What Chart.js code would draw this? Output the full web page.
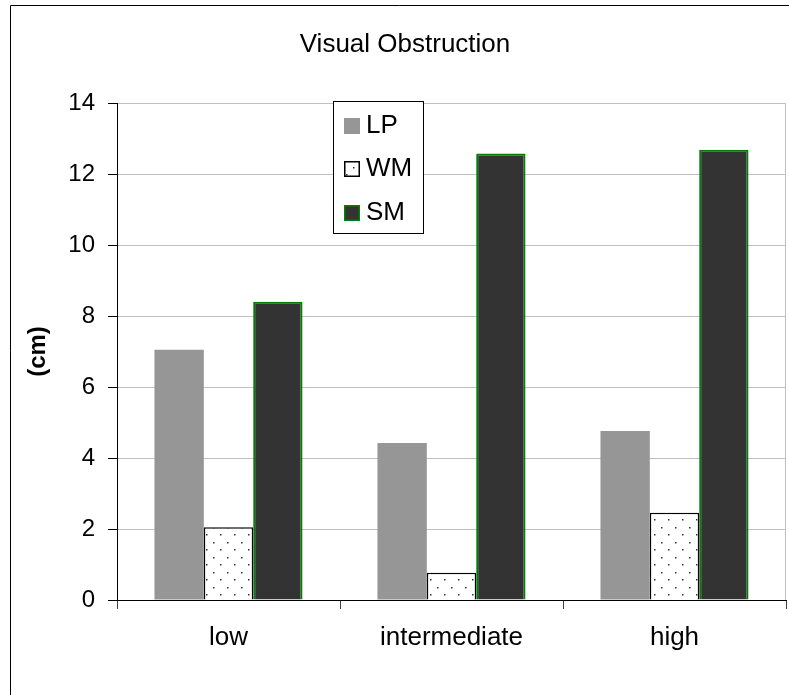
<!DOCTYPE html>
<html>
<head>
<meta charset="utf-8">
<script src="https://cdn.jsdelivr.net/npm/chart.js@4.4.1/dist/chart.umd.min.js"></script>
<style>
  html, body { margin: 0; padding: 0; background: #fff; }
  #wrap { position: relative; width: 789px; height: 695px; }
</style>
</head>
<body>
<div id="wrap"><canvas id="chart1" width="789" height="695"></canvas></div>
<script>
const categories = ['low', 'intermediate', 'high'];
const seriesNames = ['LP', 'WM', 'SM'];
const lpValues = [7.05, 4.42, 4.76];
const wmValues = [2.05, 0.77, 2.46];
const smValues = [8.4, 12.58, 12.68];
const yTicks = [0, 2, 4, 6, 8, 10, 12, 14];

const FONT = "'Liberation Sans', Arial, sans-serif";

// dotted fill for WM
function dotPattern() {
  const c = document.createElement('canvas');
  c.width = 14; c.height = 15;
  const g = c.getContext('2d');
  g.fillStyle = '#fff';
  g.fillRect(0, 0, 14, 15);
  g.fillStyle = '#333';
  g.fillRect(3, 2, 1.5, 1.5);
  g.fillRect(10, 9, 1.5, 1.5);
  return g.createPattern(c, 'repeat');
}
const dots = dotPattern();

// frame, title, right plot border and the boxed legend
const decor = {
  id: 'decor',
  beforeDraw(chart) {
    const ctx = chart.ctx;
    ctx.save();
    ctx.fillStyle = '#fff';
    ctx.fillRect(0, 0, chart.width, chart.height);
    ctx.strokeStyle = '#000';
    ctx.lineWidth = 1;
    ctx.beginPath();
    ctx.moveTo(10.5, chart.height);
    ctx.lineTo(10.5, 5.5);
    ctx.lineTo(chart.width, 5.5);
    ctx.stroke();
    ctx.fillStyle = '#000';
    ctx.font = '26px ' + FONT;
    ctx.textAlign = 'center';
    ctx.textBaseline = 'alphabetic';
    ctx.fillText('Visual Obstruction', 405, 52);
    ctx.restore();
  },
  afterDraw(chart) {
    const ctx = chart.ctx;
    const a = chart.chartArea;
    ctx.save();
    ctx.strokeStyle = '#c0c0c0';
    ctx.lineWidth = 1;
    ctx.beginPath();
    ctx.moveTo(Math.round(a.right) - 0.5, a.top);
    ctx.lineTo(Math.round(a.right) - 0.5, a.bottom);
    ctx.stroke();

    // legend box
    const bx = 333, by = 101, bw = 90, bh = 132;
    ctx.fillStyle = '#fff';
    ctx.fillRect(bx, by, bw, bh);
    ctx.strokeStyle = '#000';
    ctx.strokeRect(bx + 0.5, by + 0.5, bw, bh);
    const rows = [126, 169, 213];
    ctx.font = '26px ' + FONT;
    ctx.textAlign = 'left';
    ctx.textBaseline = 'alphabetic';
    chart.data.datasets.forEach((ds, i) => {
      const cy = rows[i];
      ctx.fillStyle = ds.backgroundColor;
      ctx.fillRect(344, cy - 8, 16, 16);
      if (ds.borderWidth) {
        ctx.strokeStyle = ds.borderColor;
        ctx.lineWidth = 1.5;
        ctx.strokeRect(344.75, cy - 7.25, 14.5, 14.5);
      }
      ctx.fillStyle = '#000';
      ctx.fillText(ds.label, 366, cy + 7);
    });
    ctx.restore();
  }
};

new Chart(document.getElementById('chart1'), {
  type: 'bar',
  data: {
    labels: categories,
    datasets: [{
      label: seriesNames[0],
      data: lpValues,
      backgroundColor: '#969696',
      borderWidth: 0
    }, {
      label: seriesNames[1],
      data: wmValues,
      backgroundColor: dots,
      borderColor: '#000',
      borderWidth: 1.5
    }, {
      label: seriesNames[2],
      data: smValues,
      backgroundColor: '#333333',
      borderColor: '#008000',
      borderWidth: 2
    }]
  },
  options: {
    responsive: false,
    animation: false,
    layout: { padding: { left: 10, right: 3, top: 103, bottom: 0 } },
    datasets: { bar: { categoryPercentage: 0.664, barPercentage: 1 } },
    plugins: {
      legend: { display: false },
      title: { display: false },
      tooltip: { enabled: false }
    },
    scales: {
      x: {
        grid: { drawOnChartArea: false, offset: true, tickLength: 9, color: '#404040' },
        border: { color: '#000', width: 1 },
        ticks: { color: '#000', font: { family: FONT, size: 26 }, padding: 13, maxRotation: 0 },
        afterFit(scale) { scale.height = 95; }
      },
      y: {
        min: 0,
        max: 14,
        afterBuildTicks(scale) { scale.ticks = yTicks.map(v => ({ value: v })); },
        grid: { color: '#c0c0c0', tickColor: '#000', tickLength: 9 },
        border: { color: '#000', width: 1 },
        ticks: { color: '#000', font: { family: FONT, size: 24 }, padding: 13 },
        title: {
          display: true,
          text: '(cm)',
          color: '#000',
          font: { family: FONT, size: 24, weight: 'bold' },
          padding: { top: 14, bottom: 0 }
        },
        afterFit(scale) { scale.width = 107; }
      }
    }
  },
  plugins: [decor]
});
</script>
</body>
</html>
